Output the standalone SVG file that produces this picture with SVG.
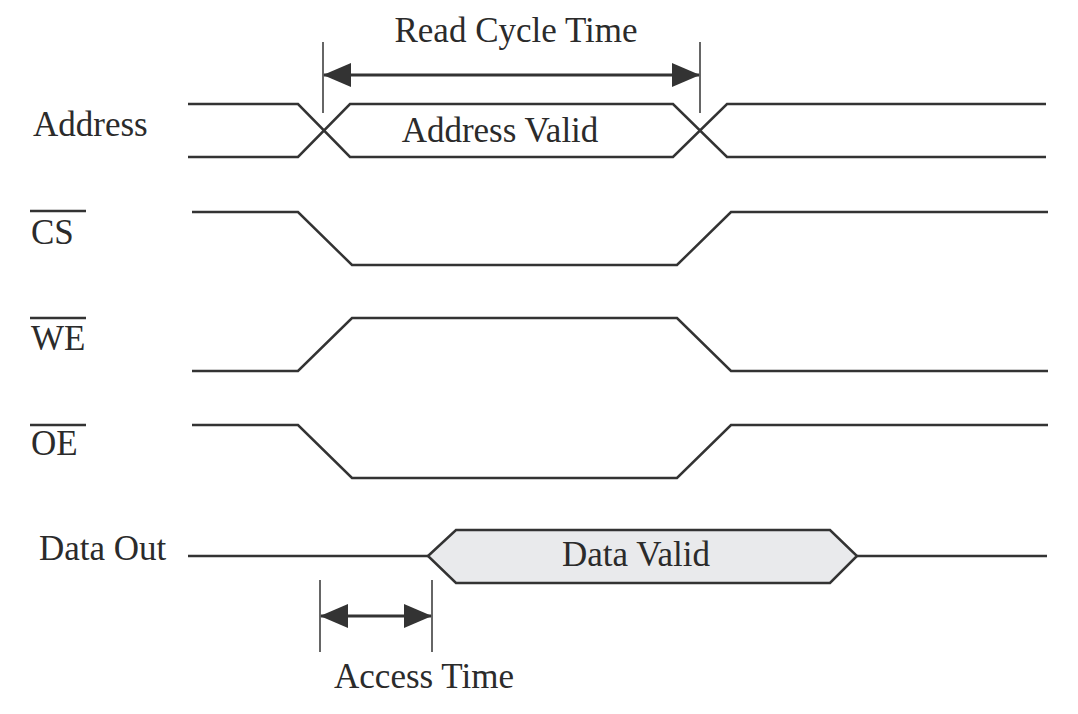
<svg xmlns="http://www.w3.org/2000/svg" width="1078" height="714" viewBox="0 0 1078 714">
<style>
.w{fill:none;stroke:#333;stroke-width:2.5;stroke-linejoin:miter}
.hex{fill:#e9eaec;stroke:#333;stroke-width:2.5}
.t{fill:none;stroke:#333;stroke-width:1.5}
.a{fill:none;stroke:#333;stroke-width:3}
.lbl{font-family:"Liberation Serif","Times New Roman",serif;font-size:35px;fill:#2b2b2b}
.ov{stroke:#333;stroke-width:2.5}
</style>
<defs>
<marker id="ah" viewBox="0 0 28 24" refX="27" refY="12" markerWidth="28" markerHeight="24" markerUnits="userSpaceOnUse" orient="auto-start-reverse">
<path d="M0,0 L28,12 L0,24 Z" fill="#333"/>
</marker>
</defs>
<rect width="1078" height="714" fill="#fff"/>
<g id="labels">
<text class="lbl" x="33" y="136">Address</text>
<text class="lbl" x="31" y="244">CS</text>
<line class="ov" x1="30" y1="211" x2="86" y2="211"/>
<text class="lbl" x="31" y="350">WE</text>
<line class="ov" x1="30" y1="318" x2="86" y2="318"/>
<text class="lbl" x="31" y="455">OE</text>
<line class="ov" x1="30" y1="425" x2="86" y2="425"/>
<text class="lbl" x="39" y="560">Data Out</text>
</g>
<g id="address">
<path class="w" d="M188,104 H298 L350,157 H673 L727,104 H1046"/>
<path class="w" d="M188,157 H298 L350,104 H673 L727,157 H1046"/>
<text class="lbl" x="500" y="142" text-anchor="middle">Address Valid</text>
</g>
<g id="cs">
<path class="w" d="M192,212 H298 L352,265 H677 L731,212 H1048"/>
</g>
<g id="we">
<path class="w" d="M192,371 H298 L352,318 H677 L731,371 H1048"/>
</g>
<g id="oe">
<path class="w" d="M192,425 H298 L352,478 H677 L731,425 H1048"/>
</g>
<g id="dataout">
<path class="w" d="M188,556 H428 M857,556 H1047"/>
<path class="hex" d="M428,556 L456,530 H830 L857,556 L830,583 H456 Z"/>
<text class="lbl" x="636" y="566" text-anchor="middle">Data Valid</text>
</g>
<g id="connectors">
<line class="t" x1="323" y1="42" x2="323" y2="113"/>
<line class="t" x1="700" y1="42" x2="700" y2="113"/>
<line class="a" x1="324" y1="75" x2="699" y2="75" marker-start="url(#ah)" marker-end="url(#ah)"/>
<text class="lbl" x="516" y="42" text-anchor="middle">Read Cycle Time</text>
<line class="t" x1="320" y1="580" x2="320" y2="652"/>
<line class="t" x1="432" y1="580" x2="432" y2="652"/>
<line class="a" x1="321" y1="616" x2="431" y2="616" marker-start="url(#ah)" marker-end="url(#ah)"/>
<text class="lbl" x="424" y="688" text-anchor="middle">Access Time</text>
</g>
</svg>
